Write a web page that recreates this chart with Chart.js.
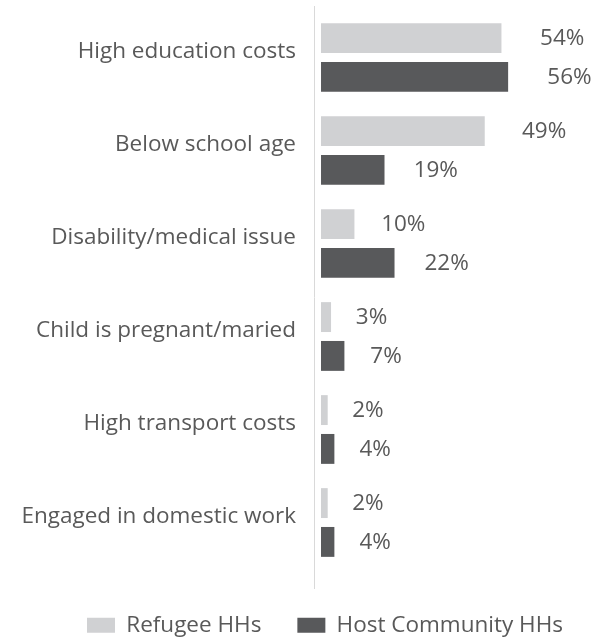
<!DOCTYPE html>
<html>
<head>
<meta charset="utf-8">
<script src="https://cdn.jsdelivr.net/npm/chart.js@4/dist/chart.umd.min.js"></script>
<style>
  html, body { margin: 0; padding: 0; background: #ffffff; }
  #wrap { width: 593px; height: 640px; position: relative; }
</style>
</head>
<body>
<div id="wrap"><canvas id="c"></canvas></div>
<script>
const categories = [
  "High education costs",
  "Below school age",
  "Disability/medical issue",
  "Child is pregnant/maried",
  "High transport costs",
  "Engaged in domestic work"
];
const refugeeValues = [54, 49, 10, 3, 2, 2];
const hostValues = [56, 19, 22, 7, 4, 4];
const seriesNames = ["Refugee HHs", "Host Community HHs"];

const FONT = "'Open Sans', 'Noto Sans', sans-serif";
const FSIZE = 22.5;
const TEXT = "#595959";

const axisLinePlugin = {
  id: 'axisLine',
  afterLayout(chart) {
    // widen/shift the legend box so its items sit centred at x≈325 on one row
    if (chart.legend) { chart.legend.left = 20; chart.legend.right = 630; }
  },
  beforeDatasetsDraw(chart) {
    const { ctx, chartArea } = chart;
    ctx.save();
    ctx.strokeStyle = '#d9d9d9';
    ctx.lineWidth = 1;
    ctx.beginPath();
    ctx.moveTo(chartArea.left + 0.5, chartArea.top - 5);
    ctx.lineTo(chartArea.left + 0.5, chartArea.bottom + 20);
    ctx.stroke();
    ctx.restore();
  }
};

const valueLabelPlugin = {
  id: 'valueLabels',
  afterDatasetsDraw(chart) {
    const { ctx } = chart;
    ctx.save();
    ctx.font = FSIZE + "px " + FONT;
    ctx.fillStyle = TEXT;
    ctx.textAlign = 'left';
    ctx.textBaseline = 'middle';
    chart.data.datasets.forEach((ds, di) => {
      const meta = chart.getDatasetMeta(di);
      meta.data.forEach((bar, i) => {
        const len = bar.x - bar.base;
        ctx.fillText(ds.data[i] + '%', bar.x + 24 + 0.081 * len, bar.y + 1);
      });
    });
    ctx.restore();
  }
};

new Chart(document.getElementById('c'), {
  type: 'bar',
  data: {
    labels: categories,
    datasets: [
      { label: seriesNames[0], data: refugeeValues, backgroundColor: '#d0d1d3',
        categoryPercentage: 0.835, barPercentage: 0.77 },
      { label: seriesNames[1], data: hostValues, backgroundColor: '#58595b',
        categoryPercentage: 0.835, barPercentage: 0.77 }
    ]
  },
  options: {
    indexAxis: 'y',
    responsive: true,
    maintainAspectRatio: false,
    animation: false,
    layout: { padding: { top: 11, left: 0, right: 0, bottom: 0 } },
    scales: {
      x: {
        min: -2.1, max: 81.4,
        grid: { display: false, drawTicks: false },
        border: { display: false },
        ticks: { display: false },
        afterFit(scale) { scale.height = 9; scale.paddingLeft = 0; scale.paddingRight = 0; }
      },
      y: {
        grid: { display: false, drawTicks: false },
        border: { display: false },
        ticks: { color: TEXT, font: { family: FONT, size: FSIZE }, padding: 18, labelOffset: -6 },
        afterFit(scale) { scale.width = 314; scale.paddingTop = 0; scale.paddingBottom = 0; }
      }
    },
    plugins: {
      legend: {
        position: 'bottom',
        maxHeight: 62,
        labels: {
          boxWidth: 28, boxHeight: 15, padding: 36,
          color: TEXT, font: { family: FONT, size: FSIZE }
        }
      },
      tooltip: { enabled: false }
    }
  },
  plugins: [axisLinePlugin, valueLabelPlugin]
});
</script>
</body>
</html>
